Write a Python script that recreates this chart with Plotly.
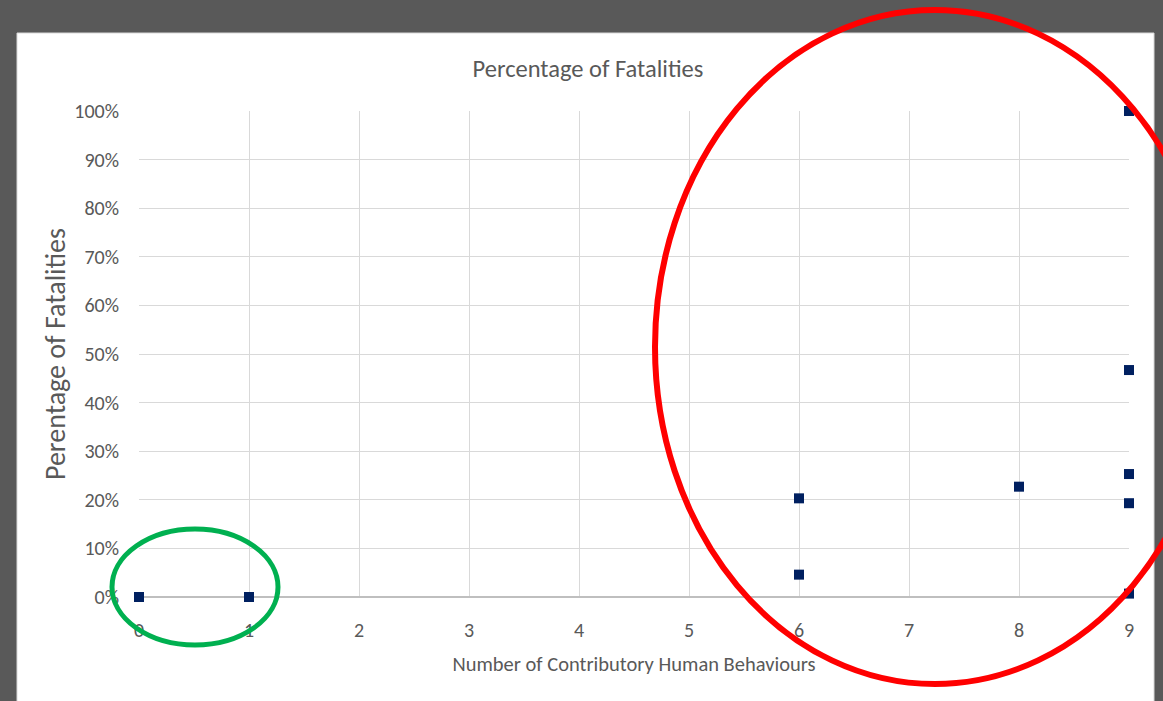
import plotly.graph_objects as go

# Data
behaviours = [0, 1, 6, 6, 8, 9, 9, 9, 9, 9]
fatality_pct = [0.0, 0.0, 0.203, 0.046, 0.227, 1.0, 0.467, 0.253, 0.193, 0.007]
x_ticks = [0, 1, 2, 3, 4, 5, 6, 7, 8, 9]

W, H = 1163, 701
L, R, T, B = 139, 1129, 111, 597
FONT = "Carlito, 'Liberation Sans Narrow', 'Open Sans', sans-serif"
TXT = "#595959"

def px(x):
    return (x - L) / (R - L)

def py(y):
    return (B - y) / (B - T)

fig = go.Figure()
fig.add_trace(go.Scatter(
    x=behaviours, y=fatality_pct, mode="markers",
    marker=dict(symbol="square", size=10, color="#002060"),
    cliponaxis=False, showlegend=False,
))

shapes = [
    # white chart panel on grey background
    dict(type="rect", xref="paper", yref="paper", layer="below",
         x0=px(17), x1=px(1154), y0=py(33), y1=py(705),
         fillcolor="white", line=dict(color="#d9d9d9", width=1)),
    # red ellipse
    dict(type="circle", xref="paper", yref="paper", layer="above",
         x0=px(655), x1=px(1215), y0=py(10), y1=py(684),
         line=dict(color="#ff0000", width=6)),
    # green ellipse
    dict(type="circle", xref="paper", yref="paper", layer="above",
         x0=px(112), x1=px(278), y0=py(529), y1=py(645),
         line=dict(color="#00b050", width=5)),
]

fig.update_layout(
    width=W, height=H,
    margin=dict(l=L, r=W - R, t=T, b=H - B),
    paper_bgcolor="#595959", plot_bgcolor="white",
    font=dict(family=FONT, color=TXT, size=16),
    title=dict(text="Percentage of Fatalities", x=(588) / W, xanchor="center",
               y=1 - 68 / H, yanchor="middle", font=dict(size=24.5, color=TXT)),
    shapes=shapes,
    xaxis=dict(range=[0, 9], tickvals=x_ticks, showgrid=True, gridcolor="#d9d9d9",
               gridwidth=1, zeroline=False, showline=False, ticks="",
               ticklabelstandoff=19, tickfont=dict(size=20, color=TXT),
               title=dict(text="Number of Contributory Human Behaviours",
                          font=dict(size=20.5, color=TXT), standoff=15)),
    yaxis=dict(range=[0, 1], dtick=0.1, tickformat=".0%", showgrid=True,
               gridcolor="#d9d9d9", gridwidth=1, zeroline=True,
               zerolinecolor="#bfbfbf", zerolinewidth=1.5, showline=False, ticks="",
               ticklabelstandoff=19, tickfont=dict(size=20, color=TXT),
               title=dict(text="Perentage of Fatalities",
                          font=dict(size=28, color=TXT), standoff=0)),
)

fig.write_html("out.html")
